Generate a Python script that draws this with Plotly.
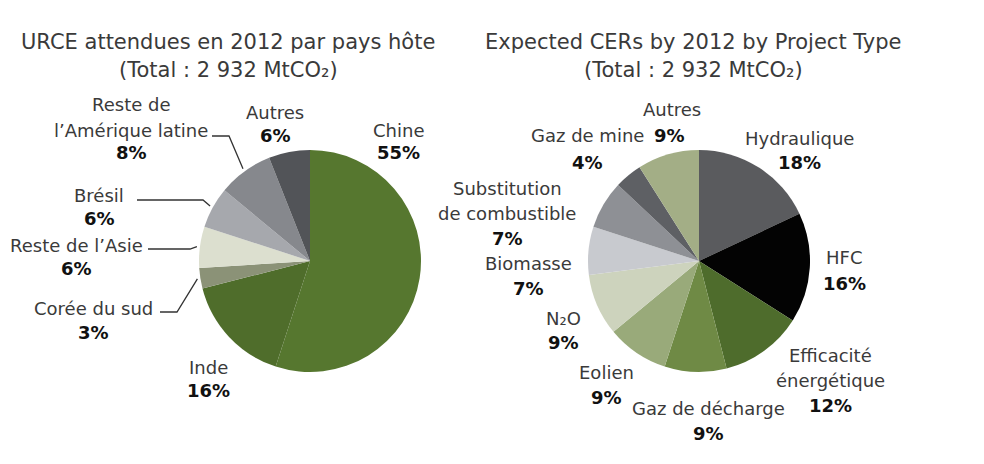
import math
import plotly.graph_objects as go

W, H = 984, 464

# ---- data ----
country_labels = ["Chine", "Inde", "Corée du sud", "Reste de l'Asie", "Brésil",
                  "Reste de l’Amérique latine", "Autres"]
country_values = [55, 16, 3, 6, 6, 8, 6]
country_colors = ["#56772f", "#4f6d2b", "#8b9277", "#dcdfcf", "#a6a8ad", "#86888d", "#525458"]

type_labels = ["Hydraulique", "HFC", "Efficacité énergétique", "Gaz de décharge", "Eolien",
               "N₂O", "Biomasse", "Substitution de combustible", "Gaz de mine", "Autres"]
type_values = [18, 16, 12, 9, 9, 9, 7, 7, 4, 9]
type_colors = ["#5a5b5e", "#030303", "#4e6c2c", "#6f8a45", "#99aa7a", "#cdd3bd",
               "#c8cacf", "#8e9095", "#5e6064", "#a3ae86"]

titles = [["URCE attendues en 2012 par pays hôte", "(Total : 2 932 MtCO₂)"],
          ["Expected CERs by 2012 by Project Type", "(Total : 2 932 MtCO₂)"]]

# ---- layout helpers (pixel -> paper) ----
def px(x):
    return x / W

def py(y):
    return 1 - y / H

L_C, R_C, R = (310, 261), (699, 261), 111
FONT = "DejaVu Sans"
TXT = "#3a3a3a"
LS = 18
TS = 21

fig = go.Figure()

def add_pie(labels, values, colors, center):
    cx, cy = center
    fig.add_trace(go.Pie(
        labels=labels, values=values, sort=False, direction="clockwise", rotation=0,
        marker=dict(colors=colors, line=dict(width=0)), textinfo="none",
        hoverinfo="label+percent", showlegend=False,
        domain=dict(x=[px(cx - R), px(cx + R)], y=[py(cy + R), py(cy - R)]),
    ))

add_pie(country_labels, country_values, country_colors, L_C)
add_pie(type_labels, type_values, type_colors, R_C)

def mid_angle(values, i):
    tot = sum(values)
    start = sum(values[:i]) / tot * 360
    return start + values[i] / tot * 360 / 2

def edge_point(center, values, i, extra=3):
    a = math.radians(mid_angle(values, i))
    return center[0] + (R + extra) * math.sin(a), center[1] - (R + extra) * math.cos(a)

anns = []
def txt(x, y, text, bold=False, size=LS):
    anns.append(dict(x=px(x), y=py(y), text=("<b>%s</b>" % text) if bold else text,
                     showarrow=False, xref="paper", yref="paper",
                     xanchor="center", yanchor="middle",
                     font=dict(family=FONT, size=size, color="#111111" if bold else TXT)))

def label(x, y_name, name_lines, pct, y_pct, x_pct=None):
    for k, ln in enumerate(name_lines):
        txt(x, y_name + k * 25, ln)
    txt(x if x_pct is None else x_pct, y_pct, pct, bold=True)

# titles
txt(228, 42, titles[0][0], size=TS)
txt(228, 70, titles[0][1], size=TS)
txt(693, 42, titles[1][0], size=TS)
txt(693, 70, titles[1][1], size=TS)

pc = lambda v: "%d%%" % v

# left pie labels
label(398, 130, ["Chine"], pc(country_values[0]), 153)
label(208, 367, ["Inde"], pc(country_values[1]), 390)
label(93, 308, ["Corée du sud"], pc(country_values[2]), 332)
label(76, 245, ["Reste de l’Asie"], pc(country_values[3]), 268)
label(99, 195, ["Brésil"], pc(country_values[4]), 218)
label(131, 105, ["Reste de", "l’Amérique latine"], pc(country_values[5]), 153)
label(275, 112, ["Autres"], pc(country_values[6]), 135)

# right pie labels
label(799, 138, [type_labels[0]], pc(type_values[0]), 163)
label(844, 257, [type_labels[1]], pc(type_values[1]), 283)
label(830, 355, ["Efficacité", "énergétique"], pc(type_values[2]), 405)
label(708, 408, [type_labels[3]], pc(type_values[3]), 433)
label(606, 372, [type_labels[4]], pc(type_values[4]), 397)
label(563, 318, [type_labels[5]], pc(type_values[5]), 342)
label(528, 263, [type_labels[6]], pc(type_values[6]), 288)
label(507, 188, ["Substitution", "de combustible"], pc(type_values[7]), 238)
label(587, 135, [type_labels[8]], pc(type_values[8]), 162)
label(672, 110, [type_labels[9]], pc(type_values[9]), 135, x_pct=669)

# leader lines (left pie): start point, elbow, end on slice edge
leaders = [(5, (212, 136), (229, 136)),
           (4, (137, 200), (203, 200)),
           (3, (148, 249), (190, 249)),
           (2, (160, 312), (177, 312))]
shapes = []
for i, s, e in leaders:
    ex, ey = edge_point(L_C, country_values, i)
    path = "M %f %f L %f %f L %f %f" % (px(s[0]), py(s[1]), px(e[0]), py(e[1]), px(ex), py(ey))
    shapes.append(dict(type="path", path=path, xref="paper", yref="paper",
                       line=dict(color="#333333", width=1.3)))

fig.update_layout(width=W, height=H, margin=dict(l=0, r=0, t=0, b=0),
                  paper_bgcolor="white", plot_bgcolor="white",
                  annotations=anns, shapes=shapes)
fig.write_html("out.html")
